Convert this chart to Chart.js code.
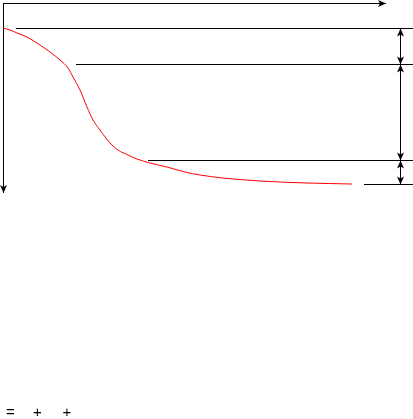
<!DOCTYPE html>
<html>
<head>
<meta charset="utf-8">
<script src="https://cdn.jsdelivr.net/npm/chart.js@4/dist/chart.umd.min.js"></script>
<style>
  html, body { margin: 0; padding: 0; background: #fff; }
  #wrap { width: 413px; height: 419px; }
</style>
</head>
<body>
<div id="wrap"><canvas id="chart" width="413" height="419"></canvas></div>
<script>
// curve (x = time units, y = loss units, y grows downward)
const curveX = [3, 10, 17, 27, 40, 50, 60, 68, 73, 80, 87, 93, 100, 110, 118, 128, 137, 150, 167, 185, 200, 223, 260, 307, 352];
const curveY = [28, 30, 33, 37, 45, 52, 60, 68, 77, 90, 107, 120, 130, 143, 150, 155, 159, 163, 167, 172, 175, 178, 181, 183, 184];

// plateau levels and where their guide lines start
const levelY = [28.5, 64.5, 160.5, 184.5];
const levelStartX = [16, 76, 148, 364];
const levelEndX = 413;

// axes extents
const axisOrigin = [3.5, 3.5];
const axisXEnd = 386;
const axisYEnd = 193;
const dimX = 400.5;

// formula text at the bottom
const formulaParts = ['=', '+', '+'];
const formulaX = [10.5, 37.5, 67];

const ctx = document.getElementById('chart').getContext('2d');

const datasets = [];
datasets.push({
  data: curveX.map((x, i) => ({ x: x, y: curveY[i] })),
  borderColor: '#ff0000',
  borderWidth: 1,
  pointRadius: 0,
  cubicInterpolationMode: 'monotone',
  fill: false
});
levelY.forEach((y, i) => {
  datasets.push({
    data: [{ x: levelStartX[i], y: y }, { x: levelEndX, y: y }],
    borderColor: '#000',
    borderWidth: 1,
    pointRadius: 0,
    fill: false
  });
});
// axes
datasets.push({
  data: [{ x: axisOrigin[0], y: axisOrigin[1] }, { x: axisXEnd, y: axisOrigin[1] }],
  borderColor: '#000', borderWidth: 1, pointRadius: 0
});
datasets.push({
  data: [{ x: axisOrigin[0], y: axisOrigin[1] }, { x: axisOrigin[0], y: axisYEnd }],
  borderColor: '#000', borderWidth: 1, pointRadius: 0
});
// dimension line
datasets.push({
  data: [{ x: dimX, y: levelY[0] }, { x: dimX, y: levelY[levelY.length - 1] }],
  borderColor: '#000', borderWidth: 1, pointRadius: 0
});

function arrowHead(c, x, y, dir) {
  // dir: 'right' | 'down' | 'up'
  const len = 8, half = 3.5;
  c.beginPath();
  if (dir === 'right') {
    c.moveTo(x, y); c.lineTo(x - len, y - half); c.lineTo(x - len + 2, y); c.lineTo(x - len, y + half);
  } else if (dir === 'down') {
    c.moveTo(x, y); c.lineTo(x - half, y - len); c.lineTo(x, y - len + 2); c.lineTo(x + half, y - len);
  } else {
    c.moveTo(x, y); c.lineTo(x - half, y + len); c.lineTo(x, y + len - 2); c.lineTo(x + half, y + len);
  }
  c.closePath();
  c.fill();
}

const decorations = {
  id: 'decorations',
  afterDatasetsDraw(chart) {
    const c = chart.ctx;
    const xs = chart.scales.x, ys = chart.scales.y;
    c.save();
    c.fillStyle = '#000';
    arrowHead(c, xs.getPixelForValue(axisXEnd), ys.getPixelForValue(axisOrigin[1]), 'right');
    arrowHead(c, xs.getPixelForValue(axisOrigin[0]), ys.getPixelForValue(axisYEnd), 'down');
    const dx = xs.getPixelForValue(dimX);
    for (let i = 0; i < levelY.length - 1; i++) {
      arrowHead(c, dx, ys.getPixelForValue(levelY[i]), 'up');
      arrowHead(c, dx, ys.getPixelForValue(levelY[i + 1]), 'down');
    }
    c.font = '15px "Liberation Sans", Arial, sans-serif';
    c.textAlign = 'center';
    c.textBaseline = 'middle';
    formulaParts.forEach((t, i) => c.fillText(t, formulaX[i], 412.5));
    c.restore();
  }
};

new Chart(ctx, {
  type: 'line',
  data: { datasets: datasets },
  options: {
    responsive: false,
    animation: false,
    layout: { padding: 0 },
    plugins: { legend: { display: false }, tooltip: { enabled: false } },
    scales: {
      x: { type: 'linear', min: 0, max: 413, display: false },
      y: { type: 'linear', min: 0, max: 419, reverse: true, display: false }
    }
  },
  plugins: [decorations]
});
</script>
</body>
</html>
